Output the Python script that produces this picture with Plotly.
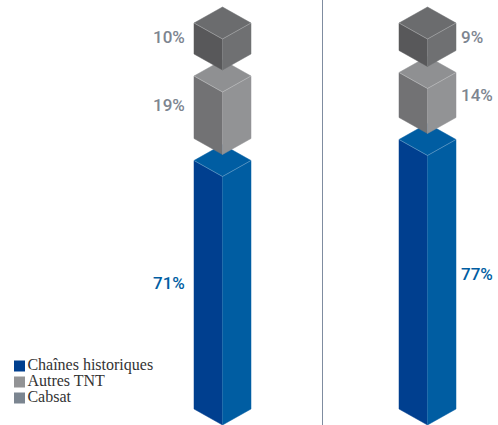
import plotly.graph_objects as go

# Audience share per column, stacked from the bottom
series_names = ["Chaînes historiques", "Autres TNT", "Cabsat"]
left_values = [71, 19, 10]
right_values = [77, 14, 9]

# Face colours of each stacked block: left side, right side, lid
block_faces = [
    ("#003f8f", "#005da2", "#005da2"),
    ("#727274", "#929395", "#8f9092"),
    ("#58585a", "#6f7072", "#6b6c6e"),
]
legend_colors = ["#003f8f", "#929395", "#7b8590"]
label_colors = ["#005da2", "#7d8590", "#7d8590"]

WIDTH, HEIGHT = 498, 425
UNIT = 3.5            # pixels per percentage point
HALF_W = 28.5         # half width of a block, pixels
DEPTH = 16 / UNIT     # isometric depth of a lid, in axis units
GAP = 22 / UNIT       # distance between stacked blocks
INSET = 4 / UNIT      # upper blocks are trimmed slightly so lids nest


def face(fig, xs, ys, color):
    fig.add_trace(go.Scatter(x=xs, y=ys, mode="lines", fill="toself", fillcolor=color,
                             line=dict(width=0.5, color=color), hoverinfo="skip", showlegend=False))


def edge(fig, xs, ys, color="rgba(255,255,255,0.38)", width=0.7):
    fig.add_trace(go.Scatter(x=xs, y=ys, mode="lines", line=dict(width=width, color=color),
                             hoverinfo="skip", showlegend=False))


def draw_block(fig, cx, base, height, faces):
    top = base + height
    left, right = cx - HALF_W, cx + HALF_W
    face(fig, [left, cx, cx, left, left], [base + DEPTH, base, top, top + DEPTH, base + DEPTH], faces[0])
    face(fig, [cx, right, right, cx, cx], [base, base + DEPTH, top + DEPTH, top, base], faces[1])
    face(fig, [left, cx, right, cx, left],
         [top + DEPTH, top, top + DEPTH, top + 2 * DEPTH, top + DEPTH], faces[2])
    edge(fig, [left, cx, right], [top + DEPTH, top, top + DEPTH])
    edge(fig, [cx, cx], [base, top], "rgba(255,255,255,0.12)")


def draw_column(fig, cx, values, label_x, label_anchor, label_lift):
    base = 0
    for i, value in enumerate(values):
        height = value - (INSET if i else 0)
        draw_block(fig, cx, base, height, block_faces[i])
        mid = base + (height + 2 * DEPTH) / 2
        fig.add_annotation(x=label_x, y=mid, text=f"{value}%", showarrow=False, xanchor=label_anchor,
                           yanchor="middle", yshift=label_lift,
                           font=dict(family="Roboto", size=17, color=label_colors[i], weight=500))
        base += height + GAP


fig = go.Figure()
draw_column(fig, 222.5, left_values, 187, "right", 2)
draw_column(fig, 427.5, right_values, 459, "left", 0)

# Divider between the two columns
fig.add_shape(type="line", x0=322.5, x1=322.5, y0=0, y1=HEIGHT / UNIT,
              line=dict(color="#7f8ca0", width=1))

# Legend, bottom left
legend_rows = [59, 43, 27]
fig.add_trace(go.Scatter(
    x=[19.5] * 3, y=[r / UNIT for r in legend_rows], mode="markers+text",
    marker=dict(symbol="square", size=11, color=legend_colors, line=dict(width=0)),
    text=series_names, textposition="middle right",
    textfont=dict(family="Liberation Serif", size=16, color="#333333"),
    hoverinfo="skip", showlegend=False,
))

fig.update_layout(
    width=WIDTH, height=HEIGHT, margin=dict(l=0, r=0, t=0, b=0),
    paper_bgcolor="white", plot_bgcolor="white", showlegend=False,
    xaxis=dict(range=[0, WIDTH], visible=False, fixedrange=True),
    yaxis=dict(range=[0, HEIGHT / UNIT], visible=False, fixedrange=True),
)

fig.write_html("out.html", config={"displayModeBar": False})
